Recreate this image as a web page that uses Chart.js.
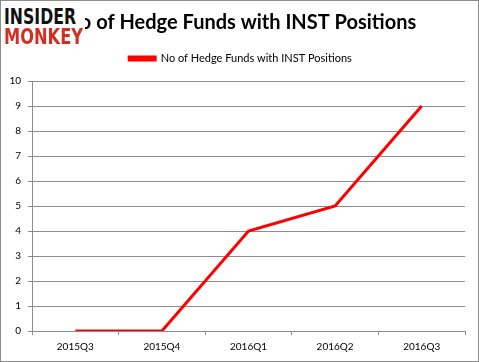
<!DOCTYPE html>
<html>
<head>
<meta charset="utf-8">
<script src="https://cdn.jsdelivr.net/npm/chart.js@4/dist/chart.umd.min.js"></script>
<style>
  html, body { margin: 0; padding: 0; background: #fff; }
  #wrap { position: relative; width: 479px; height: 362px; }
  canvas { display: block; }
  #logo { position: absolute; left: 2px; top: 3px; width: 83px; height: 45px; background: #fff;
          font-family: "DejaVu Sans", sans-serif; font-weight: bold; }
  #logo span { position: absolute; left: 2px; font-size: 21px; line-height: 21px; transform-origin: 0 0; white-space: nowrap; }
  #logo .a { color: #111; top: 3.5px; }
  #logo .b { color: #d42d22; top: 23.5px; }
</style>
</head>
<body>
<div id="wrap">
  <canvas id="c" width="479" height="362"></canvas>
  <div id="logo"><span class="a" data-w="72">INSIDER</span><span class="b" data-w="79">MONKEY</span></div>
</div>
<script>
const categories = ["2015Q3", "2015Q4", "2016Q1", "2016Q2", "2016Q3"];
const hedgeFunds = [0, 0, 4, 5, 9];
const seriesName = "No of Hedge Funds with INST Positions";
const chartTitle = "No of Hedge Funds with INST Positions";
const yTicks = [0, 1, 2, 3, 4, 5, 6, 7, 8, 9, 10];

document.querySelectorAll('#logo span').forEach(el => {
  const w = el.getBoundingClientRect().width;
  el.style.transform = 'scaleX(' + (parseFloat(el.dataset.w) / w) + ')';
});

const borderPlugin = {
  id: 'outerBorder',
  afterDraw(chart) {
    const ctx = chart.ctx;
    ctx.save();
    ctx.strokeStyle = '#8c8c8c';
    ctx.lineWidth = 1;
    ctx.strokeRect(0.5, 0.5, chart.width - 1, chart.height - 1);
    ctx.restore();
  }
};

const FONT = "Lato, 'Open Sans', sans-serif";

new Chart(document.getElementById('c'), {
  type: 'line',
  data: {
    labels: categories,
    datasets: [{
      label: seriesName,
      data: hedgeFunds,
      xAxisID: 'x',
      yAxisID: 'y',
      borderColor: '#ff0000',
      backgroundColor: '#ff0000',
      borderWidth: 3,
      pointRadius: 0,
      tension: 0,
      fill: false
    }]
  },
  options: {
    responsive: false,
    animation: false,
    devicePixelRatio: 1,
    layout: { padding: { top: 0, right: 6, left: 8, bottom: 0 } },
    plugins: {
      title: {
        display: true,
        text: chartTitle,
        color: '#000',
        font: { family: FONT, size: 20, weight: 'bold' },
        padding: { top: 11, bottom: 4 }
      },
      legend: {
        display: true,
        labels: {
          color: '#000',
          font: { family: FONT, size: 11 },
          boxWidth: 26,
          boxHeight: 3,
          padding: 14
        }
      },
      tooltip: { enabled: false }
    },
    scales: {
      x: {
        offset: true,
        grid: { offset: true, drawOnChartArea: false, drawTicks: true, tickLength: 4, color: '#8c8c8c' },
        border: { color: '#8c8c8c' },
        ticks: { color: '#000', font: { family: FONT, size: 10 }, padding: 6, maxRotation: 0 },
        afterFit(s) { s.height = 31; }
      },
      xTop: {
        type: 'category',
        position: 'top',
        display: true,
        grid: { display: false },
        border: { display: false },
        ticks: { display: false },
        afterFit(s) { s.height = 7; }
      },
      y: {
        min: 0, max: 10,
        afterBuildTicks(s) { s.ticks = yTicks.map(v => ({ value: v })); },
        grid: { color: '#8c8c8c', tickLength: 4 },
        border: { color: '#8c8c8c' },
        ticks: { color: '#000', font: { family: FONT, size: 10 }, padding: 7 },
        afterFit(s) { s.width = 24; }
      },
      yRight: {
        type: 'linear',
        position: 'right',
        display: true,
        grid: { display: false },
        border: { display: false },
        ticks: { display: false },
        afterFit(s) { s.width = 8; }
      }
    }
  },
  plugins: [borderPlugin]
});
</script>
</body>
</html>
